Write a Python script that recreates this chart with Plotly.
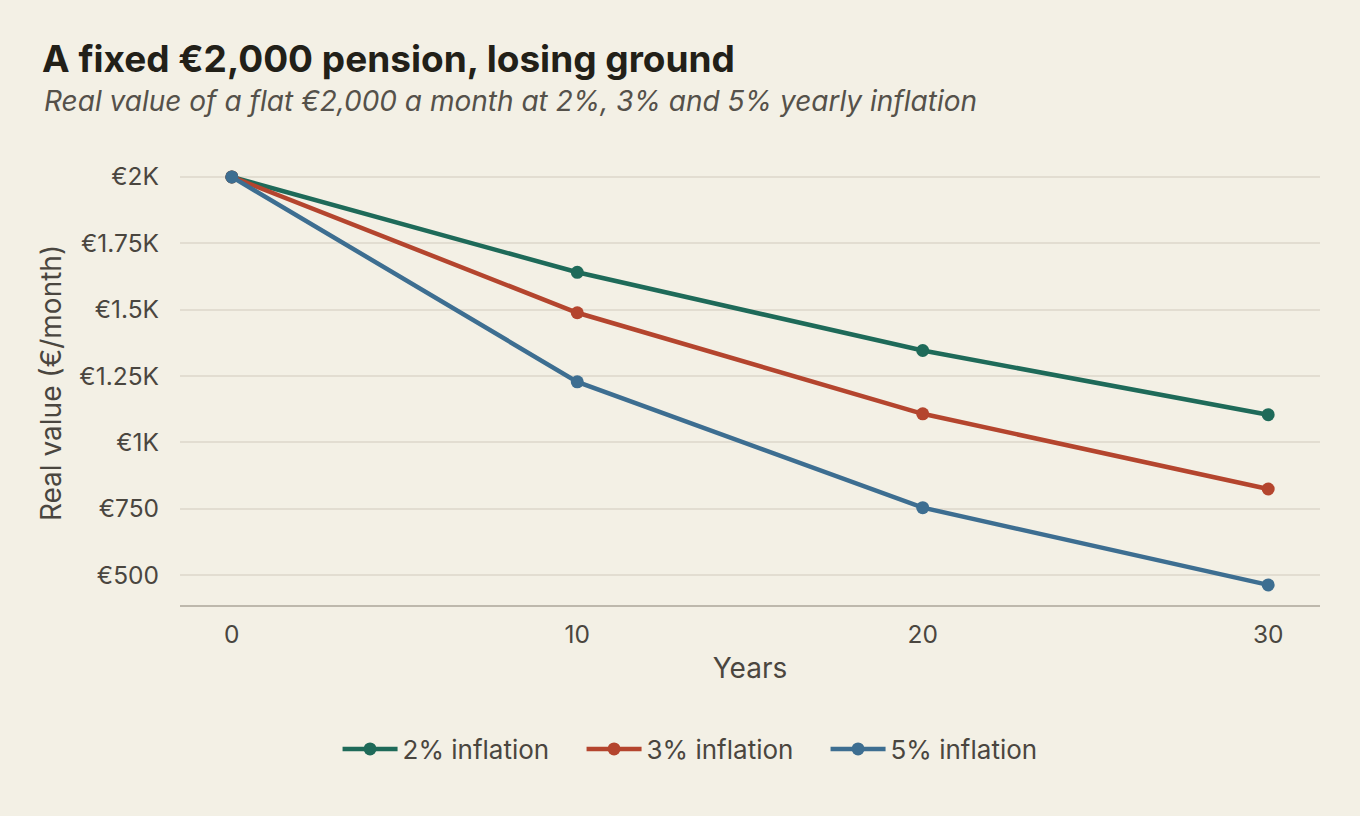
import plotly.graph_objects as go

years = [0, 10, 20, 30]
series_names = ["2% inflation", "3% inflation", "5% inflation"]
values_2pct = [2000, 1640.7, 1345.9, 1104.1]
values_3pct = [2000, 1488.2, 1107.4, 824.0]
values_5pct = [2000, 1227.8, 753.8, 462.7]
colors = ["#1E6A59", "#B4452E", "#3D6E91"]

y_tickvals = [500, 750, 1000, 1250, 1500, 1750, 2000]
y_ticktext = ["€500", "€750", "€1K", "€1.25K", "€1.5K", "€1.75K", "€2K"]

fig = go.Figure()
for name, vals, col in zip(series_names, [values_2pct, values_3pct, values_5pct], colors):
    fig.add_trace(go.Scatter(
        x=years, y=vals, name=name, mode="lines+markers",
        line=dict(color=col, width=4.5),
        marker=dict(color=col, size=13),
    ))

font_family = "Inter, Roboto, sans-serif"
fig.update_layout(
    width=1360, height=816,
    paper_bgcolor="#F3F0E5", plot_bgcolor="#F3F0E5",
    font=dict(family=font_family, color="#4A463F", size=24),
    margin=dict(l=180, r=40, t=161, b=211),
    title=dict(
        text="<b>A fixed €2,000 pension, losing ground</b>",
        x=42/1360, xref="container", xanchor="left",
        y=1 - 59/816, yref="container", yanchor="middle",
        font=dict(size=37, color="#222018", family=font_family),
    ),
    xaxis=dict(
        range=[-1.5, 31.5], tickvals=years, ticktext=[str(y) for y in years],
        showgrid=False, zeroline=False,
        showline=True, linecolor="#BDB8AC", linewidth=2,
        ticks="", ticklabelstandoff=7,
        title=dict(text="Years", standoff=10, font=dict(size=28)),
        tickfont=dict(size=24.5),
    ),
    yaxis=dict(
        range=[387, 2060], tickvals=y_tickvals, ticktext=y_ticktext,
        showgrid=True, gridcolor="#E2DDD1", gridwidth=2, zeroline=False,
        showline=False, ticks="", ticklabelstandoff=20,
        title=dict(text="Real value (€/month)", standoff=9, font=dict(size=28)),
        tickfont=dict(size=24.5),
    ),
    legend=dict(
        orientation="h", x=343/1360 - 0.004, xref="container", xanchor="left",
        y=1 - 749/816, yref="container", yanchor="middle",
        font=dict(size=26), itemwidth=55, traceorder="normal",
        entrywidth=174, entrywidthmode="pixels",
    ),
    showlegend=True,
)

fig.add_annotation(
    text="<i>Real value of a flat €2,000 a month at 2%, 3% and 5% yearly inflation</i>",
    xref="paper", yref="paper",
    x=(42 - 180) / 1140, xanchor="left",
    y=(605 - 101) / (605 - 161), yanchor="middle",
    showarrow=False, font=dict(size=28, color="#55514A"),
)

fig.write_html("out.html")
